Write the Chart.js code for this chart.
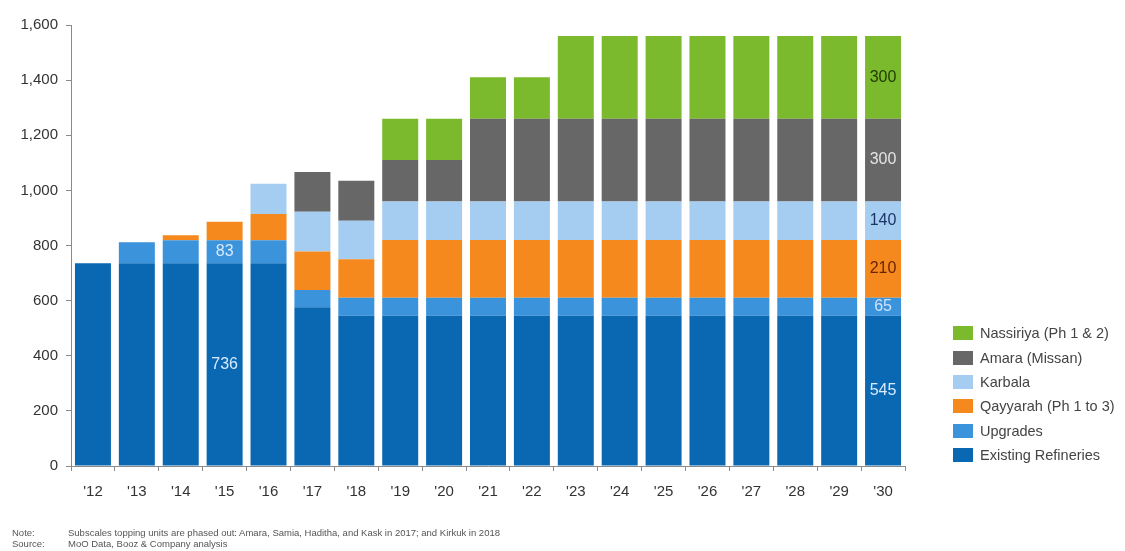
<!DOCTYPE html>
<html>
<head>
<meta charset="utf-8">
<script src="https://cdn.jsdelivr.net/npm/chart.js@4"></script>
<style>
  body { margin: 0; background: #fff; font-family: "Liberation Sans", Arial, sans-serif; }
  #wrap { position: relative; width: 1125px; height: 551px; }
  #legend { position: absolute; left: 953px; top: 321px; }
  .item { height: 24.4px; display: flex; align-items: center; font-size: 14.5px; color: #444; white-space: nowrap; }
  .box { width: 20px; height: 14px; margin-right: 7px; flex: none; }
  .note { position: absolute; left: 12px; font-size: 9.5px; color: #555; }
  .note span { position: absolute; left: 56px; white-space: nowrap; }
</style>
</head>
<body>
<div id="wrap">
  <canvas id="myChart" width="1125" height="551"></canvas>
  <div id="legend"></div>
  <div class="note" style="top:527px">Note:<span>Subscales topping units are phased out: Amara, Samia, Haditha, and Kask in 2017; and Kirkuk in 2018</span></div>
  <div class="note" style="top:538px">Source:<span>MoO Data, Booz &amp; Company analysis</span></div>
</div>
<script>

const anos = ["'12","'13","'14","'15","'16","'17","'18","'19","'20","'21","'22","'23","'24","'25","'26","'27","'28","'29","'30"]

const existing  = [736,736,736,736,736,576,545,545,545,545,545,545,545,545,545,545,545,545,545]
const upgrades  = [0,76,83,83,83,63,65,65,65,65,65,65,65,65,65,65,65,65,65]
const qayyarah  = [0,0,18,67,95,139,140,210,210,210,210,210,210,210,210,210,210,210,210]
const karbala   = [0,0,0,0,110,144,140,140,140,140,140,140,140,140,140,140,140,140,140]
const amara     = [0,0,0,0,0,145,145,150,150,300,300,300,300,300,300,300,300,300,300]
const nassiriya = [0,0,0,0,0,0,0,150,150,150,150,300,300,300,300,300,300,300,300]

const yTicks = [0,200,400,600,800,1000,1200,1400,1600]

// rotulos dentro das barras: [serie, indice do ano, cor]
const rotulos = [
  [0, 3, '#d8eaff'], [1, 3, '#d8eaff'],
  [0, 18, '#d8eaff'], [1, 18, '#cfe4fb'], [2, 18, '#6b2400'],
  [3, 18, '#1b3566'], [4, 18, '#e4e4e4'], [5, 18, '#1f3a06']
]

const series = [
  { label: 'Existing Refineries', data: existing, backgroundColor: '#0a68b3' },
  { label: 'Upgrades', data: upgrades, backgroundColor: '#3b93db' },
  { label: 'Qayyarah (Ph 1 to 3)', data: qayyarah, backgroundColor: '#f5891e' },
  { label: 'Karbala', data: karbala, backgroundColor: '#a5cdf1' },
  { label: 'Amara (Missan)', data: amara, backgroundColor: '#676767' },
  { label: 'Nassiriya (Ph 1 & 2)', data: nassiriya, backgroundColor: '#7aba2c' }
]

// legenda em html (ordem invertida, igual ao original)
const legenda = document.getElementById('legend')
series.slice().reverse().forEach(s => {
  const div = document.createElement('div')
  div.className = 'item'
  div.innerHTML = '<div class="box" style="background:' + s.backgroundColor + '"></div>' + s.label.replace('&', '&amp;')
  legenda.appendChild(div)
})

const pluginRotulos = {
  id: 'rotulos',
  afterDatasetsDraw(chart) {
    const ctx = chart.ctx
    ctx.save()
    ctx.font = '16px "Liberation Sans", Arial, sans-serif'
    ctx.textAlign = 'center'
    ctx.textBaseline = 'middle'
    rotulos.forEach(r => {
      const bar = chart.getDatasetMeta(r[0]).data[r[1]]
      const valor = series[r[0]].data[r[1]]
      ctx.fillStyle = r[2]
      ctx.fillText(valor, bar.x, (bar.y + bar.base) / 2)
    })
    ctx.restore()
  }
}

const canvas = document.getElementById('myChart')
const ctx = canvas.getContext('2d')

const chart = new Chart(ctx, {
  type: 'bar',
  data: {
    labels: anos,
    datasets: series.map(s => ({
      label: s.label,
      data: s.data,
      backgroundColor: s.backgroundColor,
      borderWidth: 0,
      barPercentage: 0.82,
      categoryPercentage: 1
    }))
  },
  options: {
    responsive: false,
    animation: false,
    layout: { padding: { top: 25, right: 220, bottom: 45, left: 0 } },
    plugins: { legend: { display: false }, tooltip: { enabled: false } },
    scales: {
      x: {
        stacked: true,
        afterFit: s => { s.height = 40 },
        border: { color: '#8a8a8a' },
        grid: { drawOnChartArea: false, tickLength: 5, color: '#8a8a8a', offset: true },
        ticks: { color: '#333', padding: 12, font: { size: 15, family: '"Liberation Sans", Arial' } }
      },
      y: {
        stacked: true,
        min: 0,
        max: 1600,
        afterFit: s => { s.width = 71 },
        afterBuildTicks: s => { s.ticks = yTicks.map(v => ({ value: v })) },
        border: { color: '#8a8a8a' },
        grid: { drawOnChartArea: false, tickLength: 5, color: '#8a8a8a' },
        ticks: {
          color: '#333',
          padding: 8,
          font: { size: 15, family: '"Liberation Sans", Arial' },
          callback: v => v.toLocaleString('en-US')
        }
      }
    }
  },
  plugins: [pluginRotulos]
})

</script>
</body>
</html>
